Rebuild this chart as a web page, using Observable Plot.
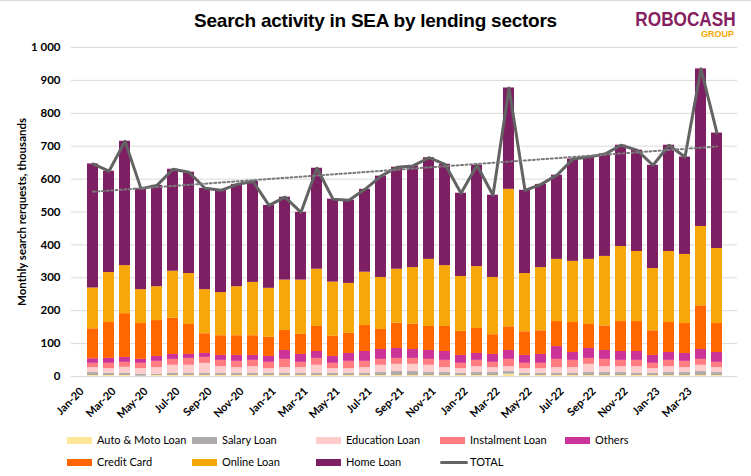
<!DOCTYPE html>
<html><head><meta charset="utf-8">
<script src="https://cdn.jsdelivr.net/npm/d3@7"></script>
<script src="https://cdn.jsdelivr.net/npm/@observablehq/plot@0.6"></script>
<style>
body{margin:0;background:#fff;}
#wrap{position:relative;width:751px;height:476px;overflow:hidden;font-family:Lato,"Liberation Sans",sans-serif;color:#000;}
#topline{position:absolute;left:0;top:0;width:751px;height:1px;background:#d9d9d9;}
#title{position:absolute;left:0;top:9px;width:751px;text-align:center;font:bold 19px/24px "Liberation Sans",Arial,sans-serif;letter-spacing:-0.25px;}
#logo{position:absolute;left:586px;top:9px;width:150px;text-align:right;}
#logo .main{display:inline-block;font:bold 20px/20px "Liberation Sans",Arial,sans-serif;color:#85205f;transform:scaleX(0.86);transform-origin:right center;}
#logo .sub{font:bold 9px/10px "Liberation Sans",Arial,sans-serif;color:#f5a800;margin-top:0px;margin-right:2px;}
#chart{position:absolute;left:0;top:40px;}
#ylabel{position:absolute;left:-128px;top:203px;width:300px;text-align:center;font:bold 11.5px/18px Lato,sans-serif;transform:rotate(-90deg);}
.lg{position:absolute;font:11px/14px Lato,sans-serif;white-space:nowrap;}
.sw{position:absolute;width:25px;height:7px;}
.ln{position:absolute;width:28px;height:3px;background:#636363;border-radius:2px;}
</style></head>
<body><div id="wrap">
<div id="topline"></div>
<div id="title">Search activity in SEA by lending sectors</div>
<div id="logo"><div class="main">ROBOCASH</div><div class="sub">GROUP</div></div>
<div id="chart"></div>
<div id="ylabel">Monthly search rerquests, thousands</div>
<div id="legend"></div>
</div>
<script>
const months = ["Jan-20","Feb-20","Mar-20","Apr-20","May-20","Jun-20","Jul-20","Aug-20","Sep-20","Oct-20","Nov-20","Dec-20",
  "Jan-21","Feb-21","Mar-21","Apr-21","May-21","Jun-21","Jul-21","Aug-21","Sep-21","Oct-21","Nov-21","Dec-21",
  "Jan-22","Feb-22","Mar-22","Apr-22","May-22","Jun-22","Jul-22","Aug-22","Sep-22","Oct-22","Nov-22","Dec-22",
  "Jan-23","Feb-23","Mar-23","Apr-23"];
const tickMonths = ["Jan-20","Mar-20","May-20","Jul-20","Sep-20","Nov-20","Jan-21","Mar-21","May-21","Jul-21","Sep-21","Nov-21",
  "Jan-22","Mar-22","May-22","Jul-22","Sep-22","Nov-22","Jan-23","Mar-23"];
const yTicks = [0,100,200,300,400,500,600,700,800,900,1000];
const yTickLabels = ["0","100","200","300","400","500","600","700","800","900","1 000"];

const autoMoto   = [3,3,3,1,3,3,3,3,3,3,3,3,3,3,3,3,3,3,3,3,3,3,3,3,3,3,7,3,3,3,3,3,3,3,3,3,3,3,3,3];
const salary     = [9,7,7,6,4,7,6,6,6,6,6,6,6,6,6,6,6,6,9,12,12,9,9,6,9,9,8,6,6,6,6,9,9,9,6,6,9,9,12,9];
const education  = [15,14,18,17,20,24,25,31,21,18,21,15,18,18,25,15,15,18,22,22,22,22,15,15,18,15,15,15,15,18,18,25,18,18,21,15,18,15,19,15];
const instalment = [13,16,15,16,19,18,21,18,19,19,19,19,25,16,21,16,22,19,18,18,18,18,22,16,19,16,22,16,16,25,22,18,22,19,19,16,19,19,18,16];
const others     = [14,15,15,12,15,15,12,12,15,18,15,18,27,24,21,21,24,30,30,30,27,27,27,24,21,24,27,24,27,39,24,30,27,27,27,24,24,24,30,30];
const creditCard = [91,109,133,109,109,110,91,60,60,60,60,58,61,61,76,61,61,79,61,77,77,73,76,73,76,60,72,72,72,76,91,73,75,91,91,75,91,91,133,88];
const onlineLoan = [124,152,146,103,103,143,155,134,131,149,162,149,153,165,174,165,152,162,158,164,172,204,185,167,188,174,418,177,192,189,186,198,211,228,213,189,216,210,241,228];
const homeLoan   = [377,308,378,307,308,310,308,308,311,311,307,252,252,206,307,252,253,252,308,310,309,309,308,253,308,250,308,253,253,256,311,311,311,308,308,314,323,296,479,351];

const seriesNames = ["Auto & Moto Loan","Salary Loan","Education Loan","Instalment Loan","Others","Credit Card","Online Loan","Home Loan"];
const seriesValues = [autoMoto, salary, education, instalment, others, creditCard, onlineLoan, homeLoan];
const seriesColors = ["#FFE699","#AEAAAA","#FFCCCC","#FF7C80","#CC3399","#FF6600","#F6A80A","#7E1F63"];

const rows = [];
seriesNames.forEach((s, k) => months.forEach((m, i) => rows.push({month: m, series: s, value: seriesValues[k][i]})));
const totals = months.map((m, i) => seriesValues.reduce((a, arr) => a + arr[i], 0));
const totalRows = months.map((m, i) => ({month: m, total: totals[i]}));
// linear trendline (least squares on the totals)
const n = totals.length, mx = (n - 1) / 2, my = d3.mean(totals);
const slope = d3.sum(totals, (t, i) => (i - mx) * (t - my)) / d3.sum(totals, (t, i) => (i - mx) ** 2);
const trendRows = months.map((m, i) => ({month: m, trend: my + slope * (i - mx)}));

const chart = Plot.plot({
  width: 751, height: 380,
  marginTop: 7, marginBottom: 44, marginLeft: 71, marginRight: 14,
  style: {fontFamily: "Lato, sans-serif", fontSize: "11px", fontWeight: "bold", color: "#000", background: "transparent"},
  x: {domain: months, paddingInner: 0.34, paddingOuter: 0.17, axis: null},
  y: {domain: [0, 1000], axis: null},
  color: {domain: seriesNames, range: seriesColors},
  marks: [
    Plot.gridY(yTicks, {stroke: "#d9d9d9", strokeOpacity: 1}),
    Plot.barY(rows, {x: "month", y: "value", fill: "series"}),
    Plot.ruleY([0], {stroke: "#d9d9d9", strokeWidth: 1}),
    Plot.line(totalRows, {x: "month", y: "total", stroke: "#636363", strokeWidth: 3, strokeLinejoin: "round"}),
    Plot.line(trendRows, {x: "month", y: "trend", stroke: "#7a7a7a", strokeWidth: 2, strokeDasharray: "2,2.5"}),
    Plot.axisY(yTicks, {tickSize: 0, tickPadding: 11, label: null, fontSize: 11.5, tickFormat: d => yTickLabels[yTicks.indexOf(d)]}),
    Plot.axisX(tickMonths, {tickSize: 0, tickPadding: 6, tickRotate: -45, label: null, dx: -11, dy: 7})
  ]
});
document.getElementById("chart").appendChild(chart);

// legend
const legend = document.getElementById("legend");
const lgItems = [
  {name: "Auto & Moto Loan", x: 67, y: 437, c: seriesColors[0]},
  {name: "Salary Loan", x: 192, y: 437, c: seriesColors[1]},
  {name: "Education Loan", x: 316, y: 437, c: seriesColors[2]},
  {name: "Instalment Loan", x: 440, y: 437, c: seriesColors[3]},
  {name: "Others", x: 565, y: 437, c: seriesColors[4]},
  {name: "Credit Card", x: 67, y: 459, c: seriesColors[5]},
  {name: "Online Loan", x: 192, y: 459, c: seriesColors[6]},
  {name: "Home Loan", x: 316, y: 459, c: seriesColors[7]},
  {name: "TOTAL", x: 440, y: 459, c: null}
];
for (const it of lgItems) {
  const sw = document.createElement("div");
  if (it.c) { sw.className = "sw"; sw.style.left = it.x + "px"; sw.style.top = it.y + "px"; sw.style.background = it.c; }
  else { sw.className = "ln"; sw.style.left = it.x + "px"; sw.style.top = (it.y + 2) + "px"; }
  legend.appendChild(sw);
  const t = document.createElement("div");
  t.className = "lg"; t.textContent = it.name;
  t.style.left = (it.x + 30) + "px"; t.style.top = (it.y - 4) + "px";
  legend.appendChild(t);
}
</script>
</body></html>
